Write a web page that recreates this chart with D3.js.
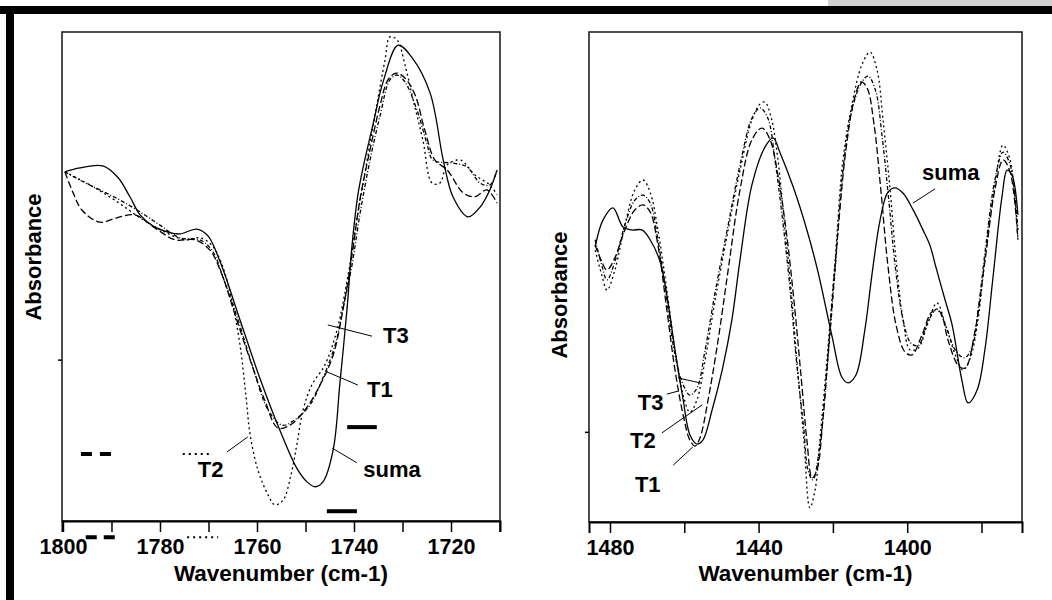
<!DOCTYPE html>
<html lang="en">
<head>
<meta charset="utf-8">
<title>Absorbance - Wavenumber</title>
<script src="https://cdn.jsdelivr.net/npm/d3@7"></script>
<style>
	body { margin: 0; background: #fff; }
	svg text { font-family: "Liberation Sans", Arial, sans-serif; font-weight: bold; fill: #000; }
</style>
</head>
<body>
<script>

	//Left panel (1800-1710 cm-1), [wavenumber, absorbance in arbitrary units]
	var leftSuma = [[1799.6,71.4],[1796.5,72.2],[1791.8,72.6],[1788.7,70.3],[1786.2,66.3],[1784.1,62.6],[1781.4,60.3],[1778.4,59.1],[1775.9,58.7],[1772.4,59.7],[1770.1,58.3],[1767.6,53.0],[1763.5,41.1],[1759.4,29.2],[1755.3,18.6],[1751.8,10.8],[1749.7,8.0],[1748.0,7.0],[1746.4,8.0],[1744.3,14.5],[1742.9,28.2],[1741.4,43.8],[1740.4,56.4],[1739.2,66.7],[1738.1,72.4],[1736.1,81.0],[1734.0,89.8],[1730.9,97.3],[1728.0,94.7],[1724.3,87.5],[1721.6,73.8],[1719.6,66.3],[1716.5,62.2],[1714.0,64.2],[1712.0,67.7],[1710.5,71.8]];
	var leftT1 = [[1799.6,71.4],[1797.9,67.1],[1796.1,63.6],[1792.4,61.1],[1788.9,62.0],[1785.2,62.6],[1781.0,59.9],[1776.9,57.5],[1772.8,57.5],[1769.7,55.4],[1767.2,50.3],[1764.5,42.1],[1761.4,32.9],[1758.4,24.7],[1755.7,19.0],[1753.2,19.6],[1750.1,22.7],[1747.0,27.8],[1744.3,33.9],[1742.3,43.1],[1740.4,54.4],[1738.8,65.6],[1736.7,75.9],[1734.6,85.1],[1733.0,90.2],[1731.3,91.6],[1729.5,90.6],[1727.4,87.1],[1725.4,79.9],[1723.3,73.8],[1720.8,71.8],[1717.5,67.1],[1715.1,66.3],[1712.6,67.7],[1710.5,65.0]];
	var leftT2 = [[1799.6,71.4],[1794.4,68.7],[1789.3,65.6],[1784.1,62.0],[1779.0,59.1],[1774.8,57.5],[1771.8,57.9],[1769.3,56.4],[1767.2,52.4],[1765.2,45.2],[1763.5,36.0],[1762.3,25.8],[1761.4,17.6],[1759.8,10.4],[1757.7,5.3],[1756.3,3.3],[1754.6,4.3],[1753.0,9.4],[1751.8,15.5],[1750.5,22.7],[1748.7,27.8],[1746.0,31.9],[1743.5,39.1],[1741.4,49.3],[1739.4,61.6],[1737.3,73.8],[1735.3,85.1],[1733.6,94.3],[1732.6,99.0],[1731.1,98.4],[1729.5,93.3],[1727.8,86.1],[1725.8,77.9],[1723.9,69.1],[1722.3,69.1],[1720.8,72.8],[1718.1,73.8],[1715.1,70.8],[1712.0,68.7],[1710.5,66.7]];
	var leftT3 = [[1799.6,71.4],[1796.5,69.7],[1792.4,67.7],[1788.2,65.6],[1784.1,63.2],[1780.0,60.5],[1775.9,57.9],[1771.8,57.5],[1769.3,55.4],[1766.8,49.3],[1763.9,41.1],[1761.0,31.9],[1757.7,22.7],[1754.8,19.6],[1752.2,20.7],[1749.1,23.7],[1746.6,28.8],[1743.9,36.0],[1741.9,45.2],[1740.4,52.4],[1738.8,62.6],[1736.7,73.8],[1734.6,83.0],[1732.6,90.2],[1731.1,91.2],[1729.5,89.8],[1726.8,83.4],[1725.0,77.3],[1723.7,73.8],[1719.6,73.2],[1716.7,72.4],[1714.0,69.1],[1712.0,68.7],[1710.5,71.8]];

	//Right panel (1485-1369 cm-1)
	var rightSuma = [[1484.0,56.1],[1481.9,61.6],[1479.2,64.1],[1476.5,60.2],[1474.1,59.6],[1471.4,59.6],[1469.2,57.6],[1466.5,53.1],[1464.7,46.3],[1462.5,35.1],[1460.3,24.9],[1458.5,17.8],[1456.6,15.9],[1455.0,16.7],[1452.5,22.9],[1449.8,31.0],[1447.2,41.2],[1445.0,53.5],[1441.8,68.8],[1438.3,76.5],[1436.1,78.4],[1434.2,75.3],[1430.7,68.4],[1427.0,59.6],[1424.0,51.0],[1420.2,37.8],[1417.6,29.6],[1415.9,28.4],[1413.8,30.0],[1411.4,39.2],[1409.5,50.4],[1407.3,61.6],[1405.2,67.3],[1403.3,68.2],[1401.1,67.1],[1398.4,63.7],[1396.0,60.0],[1393.9,56.5],[1392.2,51.8],[1389.8,45.3],[1387.9,40.2],[1385.3,29.0],[1383.6,24.3],[1381.2,26.9],[1379.1,35.1],[1376.9,50.0],[1374.5,66.3],[1373.1,71.8],[1371.8,70.8],[1370.2,62.7]];
	var rightT1 = [[1484.0,56.5],[1482.2,53.1],[1480.8,51.4],[1478.7,53.9],[1476.0,59.6],[1473.3,63.7],[1471.1,64.7],[1469.2,63.3],[1467.1,56.5],[1464.7,43.3],[1462.5,31.0],[1460.3,21.8],[1458.5,16.7],[1457.1,15.5],[1455.8,17.1],[1453.6,24.9],[1450.9,37.1],[1448.2,51.4],[1445.0,67.8],[1441.8,78.0],[1439.1,80.4],[1436.9,78.0],[1434.8,70.8],[1432.6,59.6],[1430.5,45.3],[1428.6,30.0],[1427.0,16.7],[1425.6,9.0],[1424.3,10.6],[1422.7,20.8],[1420.8,39.2],[1418.6,59.6],[1416.5,75.9],[1414.3,86.1],[1412.4,89.8],[1410.8,88.6],[1408.9,81.0],[1407.1,67.8],[1405.2,52.4],[1403.0,40.2],[1400.6,34.7],[1398.7,34.1],[1396.0,38.2],[1393.3,42.9],[1391.2,42.9],[1389.0,37.1],[1386.3,32.0],[1384.4,31.4],[1381.7,39.2],[1379.1,53.1],[1376.4,67.8],[1374.2,73.9],[1372.3,71.4],[1370.2,57.6]];
	var rightT2 = [[1484.0,55.5],[1482.2,50.4],[1480.8,47.3],[1478.7,51.4],[1476.0,60.6],[1473.3,67.8],[1471.1,69.8],[1469.2,67.3],[1467.1,59.6],[1464.7,47.3],[1462.5,35.1],[1460.3,25.9],[1458.5,22.4],[1456.6,24.9],[1454.4,33.1],[1451.7,45.3],[1448.2,59.6],[1445.0,71.8],[1441.8,82.0],[1439.6,85.3],[1438.3,85.7],[1436.6,82.5],[1434.8,74.0],[1433.2,62.0],[1431.5,49.4],[1429.7,33.1],[1427.8,16.7],[1426.2,2.9],[1424.8,6.5],[1423.5,16.7],[1421.6,33.1],[1419.4,53.5],[1417.3,73.9],[1414.9,85.1],[1412.2,93.3],[1410.0,95.9],[1408.1,92.2],[1406.5,82.0],[1404.6,67.8],[1403.0,53.5],[1401.1,41.2],[1399.2,35.1],[1397.0,35.5],[1394.6,40.2],[1392.0,44.7],[1389.6,40.0],[1387.0,34.0],[1385.0,31.0],[1383.0,33.5],[1381.0,41.0],[1379.1,53.5],[1376.4,68.8],[1374.2,76.9],[1372.3,73.9],[1370.2,57.6]];
	var rightT3 = [[1484.0,57.6],[1482.2,52.4],[1480.8,49.4],[1478.7,53.1],[1476.0,60.6],[1473.3,65.7],[1471.1,66.7],[1469.2,65.1],[1467.1,57.6],[1464.7,45.3],[1462.5,34.1],[1460.3,28.0],[1458.5,25.9],[1456.6,27.3],[1454.4,35.1],[1451.7,46.9],[1448.2,60.6],[1445.0,72.9],[1441.8,82.4],[1439.6,84.5],[1437.5,82.4],[1435.6,73.9],[1433.7,62.7],[1431.5,47.3],[1429.7,32.0],[1427.8,18.8],[1426.7,10.6],[1425.4,8.6],[1423.5,15.7],[1421.6,31.0],[1419.4,51.4],[1417.3,71.8],[1414.9,84.0],[1412.2,89.8],[1410.5,91.0],[1408.5,88.0],[1406.8,79.0],[1405.0,66.0],[1403.2,52.0],[1401.1,41.2],[1399.0,36.5],[1397.0,36.0],[1394.6,40.5],[1392.0,43.5],[1389.6,40.0],[1387.0,35.0],[1384.6,33.5],[1382.6,35.5],[1380.8,44.0],[1378.9,56.0],[1376.4,69.8],[1374.2,75.5],[1372.3,72.9],[1370.2,59.6]];

	//Axis ticks and labels
	var leftTicks = [1800, 1790, 1780, 1770, 1760, 1750, 1740, 1730, 1720, 1710];
	var leftLabels = [1800, 1780, 1760, 1740, 1720];
	var rightTicks = [1480, 1460, 1440, 1420, 1400, 1380];
	var rightLabels = [1480, 1440, 1400];
	var leftYTicks = [33];
	var rightYTicks = [18.4];

	//Curve labels: text anchor and leader line(s), in data units
	var leftNotes = [
		{ text: "T3", at: [1734.0, 36.4], lines: [[[1745.4, 40.1], [1736.3, 37.8]]] },
		{ text: "T1", at: [1737.3, 25.4], lines: [[[1745.6, 30.5], [1739.2, 27.8]]] },
		{ text: "T2", at: [1772.2, 9.0], lines: [[[1766.2, 14.1], [1761.9, 17.2]]] },
		{ text: "suma", at: [1738.1, 9.0], lines: [[[1744.5, 14.9], [1739.4, 11.9]]] }
	];
	var rightNotes = [
		{ text: "suma", at: [1396.0, 69.8], lines: [[[1398.4, 65.1], [1392.5, 68.0]]] },
		{ text: "T3", at: [1472.5, 22.9], lines: [[[1464.7, 26.1], [1461.7, 26.7]], [[1461.7, 29.4], [1455.8, 28.4]]] },
		{ text: "T2", at: [1474.6, 15.1], lines: [[[1466.0, 18.2], [1455.2, 23.9]]] },
		{ text: "T1", at: [1473.3, 6.1], lines: [[[1463.0, 11.6], [1457.7, 15.3]]] }
	];

	//Stray legend samples left in the left panel
	var leftKeys = [
		{ from: [1796.3, 13.7], to: [1790.1, 13.7], dash: "11,8", width: 4 },
		{ from: [1775.3, 13.7], to: [1769.1, 13.7], dash: "2,4", width: 2 },
		{ from: [1741.4, 19.2], to: [1735.3, 19.2], dash: null, width: 4 },
		{ from: [1745.6, 2.0], to: [1739.4, 2.0], dash: null, width: 4 },
		{ from: [1795.3, -3.3], to: [1789.3, -3.3], dash: "11,7", width: 4 },
		{ from: [1774.4, -3.3], to: [1768.0, -3.3], dash: "2,4", width: 2 }
	];

	var w = 1052;
	var h = 600;

	var svg = d3.select("body")
		.append("svg")
		.attr("width", w)
		.attr("height", h);

	//Page frame
	svg.append("rect").attr("x", 828).attr("y", 0).attr("width", 224).attr("height", 6).attr("fill", "#d0d0d0");
	svg.append("rect").attr("x", 0).attr("y", 6).attr("width", w).attr("height", 8).attr("fill", "#000");
	svg.append("rect").attr("x", 6).attr("y", 6).attr("width", 8).attr("height", h - 6).attr("fill", "#000");

	var styles = {
		suma: null,
		T1: "7,3",
		T2: "2,3",
		T3: "4,2,1,2"
	};

	function drawPanel(p) {
		var x = d3.scaleLinear().domain(p.domain).range([p.left, p.right]);
		var y = d3.scaleLinear().domain([0, 100]).range([p.bottom, p.top]);
		var g = svg.append("g");

		var line = d3.line()
			.x(function(d) { return x(d[0]); })
			.y(function(d) { return y(d[1]); })
			.curve(d3.curveCatmullRom.alpha(0.5));

		p.series.forEach(function(s) {
			g.append("path")
				.datum(s.values)
				.attr("d", line)
				.attr("fill", "none")
				.attr("stroke", "#000")
				.attr("stroke-width", 1.3)
				.attr("stroke-dasharray", styles[s.name]);
		});

		//Plot frame
		g.append("rect")
			.attr("x", p.left)
			.attr("y", p.top)
			.attr("width", p.right - p.left)
			.attr("height", p.bottom - p.top)
			.attr("fill", "none")
			.attr("stroke", "#222")
			.attr("stroke-width", 1.6);

		var xAxis = d3.axisBottom(x)
			.tickValues(p.ticks)
			.tickSize(11)
			.tickPadding(7)
			.tickFormat(function(d) { return p.labels.indexOf(d) >= 0 ? d : ""; });

		var ax = g.append("g")
			.attr("transform", "translate(0," + p.bottom + ")")
			.call(xAxis);
		ax.select(".domain").attr("stroke", "#000").attr("stroke-width", 2);
		ax.selectAll(".tick line").attr("stroke", "#000").attr("stroke-width", 1.5);
		ax.selectAll("text").style("font-size", "21.5px").attr("fill", "#000");

		var yAxis = d3.axisLeft(y).tickValues(p.yTicks).tickSize(4).tickFormat("");
		var ay = g.append("g")
			.attr("transform", "translate(" + p.left + ",0)")
			.call(yAxis);
		ay.select(".domain").remove();
		ay.selectAll(".tick line").attr("stroke", "#000").attr("stroke-width", 1.5);

		g.append("text")
			.attr("x", (p.left + p.right) / 2)
			.attr("y", 581)
			.attr("text-anchor", "middle")
			.style("font-size", "22.5px")
			.text("Wavenumber (cm-1)");

		g.append("text")
			.attr("transform", "translate(" + p.yLabel[0] + "," + p.yLabel[1] + ") rotate(-90)")
			.attr("text-anchor", "middle")
			.attr("dy", "0.36em")
			.style("font-size", "22px")
			.text("Absorbance");

		//Curve labels
		p.notes.forEach(function(n) {
			n.lines.forEach(function(l) {
				g.append("line")
					.attr("x1", x(l[0][0])).attr("y1", y(l[0][1]))
					.attr("x2", x(l[1][0])).attr("y2", y(l[1][1]))
					.attr("stroke", "#000")
					.attr("stroke-width", 1);
			});
			g.append("text")
				.attr("x", x(n.at[0]))
				.attr("y", y(n.at[1]))
				.style("font-size", "22px")
				.text(n.text);
		});

		p.keys.forEach(function(k) {
			g.append("line")
				.attr("x1", x(k.from[0])).attr("y1", y(k.from[1]))
				.attr("x2", x(k.to[0])).attr("y2", y(k.to[1]))
				.attr("stroke", "#000")
				.attr("stroke-width", k.width)
				.attr("stroke-dasharray", k.dash);
		});
	}

	drawPanel({
		left: 62, right: 500, top: 32, bottom: 521,
		domain: [1800.2, 1709.9],
		ticks: leftTicks, labels: leftLabels, yTicks: leftYTicks,
		yLabel: [33, 257],
		series: [
			{ name: "T2", values: leftT2 },
			{ name: "T3", values: leftT3 },
			{ name: "T1", values: leftT1 },
			{ name: "suma", values: leftSuma }
		],
		notes: leftNotes,
		keys: leftKeys
	});

	drawPanel({
		left: 589, right: 1022, top: 32, bottom: 522,
		domain: [1485.65, 1369.1],
		ticks: rightTicks, labels: rightLabels, yTicks: rightYTicks,
		yLabel: [559, 295],
		series: [
			{ name: "T2", values: rightT2 },
			{ name: "T3", values: rightT3 },
			{ name: "T1", values: rightT1 },
			{ name: "suma", values: rightSuma }
		],
		notes: rightNotes,
		keys: []
	});

</script>
</body>
</html>
